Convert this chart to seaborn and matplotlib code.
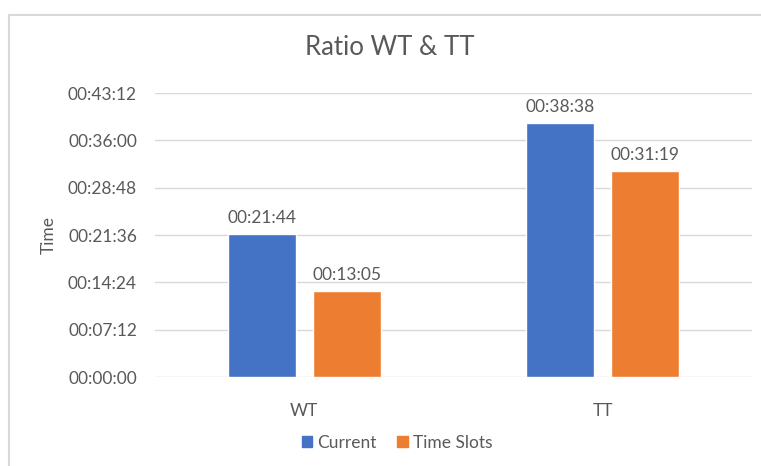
import matplotlib
matplotlib.use("Agg")
import matplotlib.pyplot as plt
import seaborn as sns
import pandas as pd
from matplotlib.lines import Line2D
from matplotlib.ticker import FixedLocator, FuncFormatter

# data: durations in seconds
categories = ["WT", "TT"]
series = ["Current", "Time Slots"]
current_sec = [21 * 60 + 44, 38 * 60 + 38]
slots_sec = [13 * 60 + 5, 31 * 60 + 19]
tick_sec = [0, 432, 864, 1296, 1728, 2160, 2592]

df = pd.DataFrame({
    "cat": categories * 2,
    "series": [series[0]] * 2 + [series[1]] * 2,
    "sec": current_sec + slots_sec,
})

def hms(s, pos=None):
    s = int(round(s))
    return f"{s // 3600:02d}:{(s % 3600) // 60:02d}:{s % 60:02d}"

sns.set_theme(style="white")
plt.rcParams["font.family"] = ["Lato", "DejaVu Sans"]
txt = "#595959"
colors = ["#4472C4", "#ED7D31"]

fig = plt.figure(figsize=(7.61, 4.66), dpi=100)
ax = fig.add_axes([155 / 761, 1 - 377 / 466, (752 - 155) / 761, (377 - 93) / 466])

sns.barplot(data=df, x="cat", y="sec", hue="series", order=categories,
            hue_order=series, palette=colors, saturation=1,
            width=0.57, gap=0.2, ax=ax, legend=False)

ax.set_ylim(0, 2592)
ax.yaxis.set_major_locator(FixedLocator(tick_sec))
ax.yaxis.set_major_formatter(FuncFormatter(hms))
ax.grid(axis="y", color="#D9D9D9", linewidth=1)
ax.set_axisbelow(True)
for sp in ax.spines.values():
    sp.set_visible(False)
ax.tick_params(axis="y", length=0, pad=13, labelsize=12.5, labelcolor=txt)
ax.tick_params(axis="x", length=0, pad=19, labelsize=12.5, labelcolor=txt)
ax.set_xlabel("")
ax.set_ylabel("Time", fontsize=12.5, color=txt, labelpad=8)

for cont in ax.containers:
    ax.bar_label(cont, labels=[hms(v) for v in cont.datavalues],
                 padding=6, fontsize=12.5, color=txt)

fig.suptitle("Ratio WT & TT", x=(305 + 475) / 2 / 761, y=1 - 35 / 466,
             fontsize=18.5, color=txt)

handles = [plt.Rectangle((0, 0), 1, 1, color=c) for c in colors]
fig.legend(handles, series, loc="center", bbox_to_anchor=(397 / 761, 1 - 443 / 466),
           ncol=2, frameon=False, fontsize=12.5, labelcolor=txt,
           handlelength=0.6, handleheight=0.6, handletextpad=0.3, columnspacing=1.2)

# chart area frame (partially visible in the crop)
fig.add_artist(Line2D([9 / 761, 9 / 761], [0, 1 - 15 / 466], color="#D9D9D9", lw=1.5))
fig.add_artist(Line2D([9 / 761, 1], [1 - 15 / 466, 1 - 15 / 466], color="#D9D9D9", lw=1.5))

fig.savefig("out.png", dpi=100)
